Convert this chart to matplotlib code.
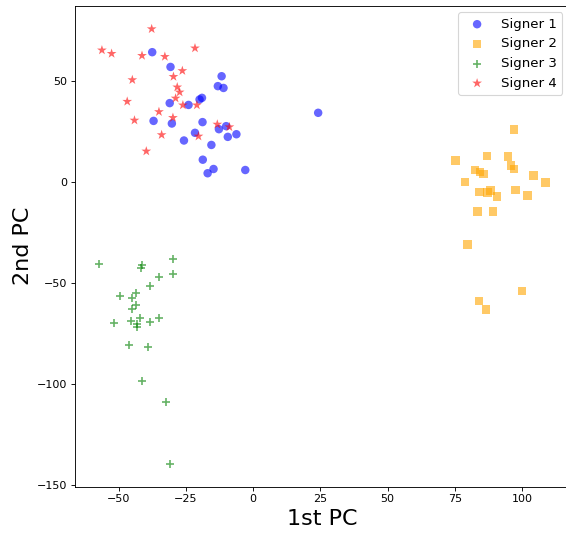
import matplotlib
matplotlib.use("Agg")
import matplotlib.pyplot as plt

s1_x = [-37.5, -30.7, -11.7, -13.1, -11.0, -19.0, -19.9, -31.0, -24.0, -37.0, -30.2, -18.8,
        -12.7, -10.0, -6.2, -9.4, -21.6, -25.7, -15.5, -18.7, -14.7, -16.9, -2.9, 24.2]
s1_y = [64.2, 56.9, 52.3, 47.4, 46.5, 41.6, 40.8, 39.0, 38.1, 30.2, 28.9, 29.6,
        26.1, 27.6, 23.6, 22.3, 24.3, 20.5, 18.3, 11.0, 6.4, 4.3, 5.9, 34.2]

s2_x = [97.1, 75.2, 86.9, 94.8, 95.8, 97.1, 82.6, 84.3, 85.6, 104.3, 108.7, 78.7,
        84.1, 87.2, 88.2, 90.7, 97.5, 102.1, 83.5, 89.2, 79.8, 100.0, 83.9, 86.7]
s2_y = [25.9, 10.5, 12.7, 12.5, 8.1, 6.3, 5.9, 5.0, 3.8, 3.1, -0.3, 0.0,
        -5.1, -5.3, -4.3, -7.1, -4.1, -6.8, -14.7, -14.7, -30.9, -54.0, -58.9, -63.2]

s3_x = [-57.4, -41.2, -41.6, -29.9, -29.8, -34.9, -38.4, -49.6, -43.7, -45.2, -43.4, -45.1,
        -51.7, -45.4, -42.1, -43.3, -43.3, -38.5, -34.8, -46.2, -39.2, -41.2, -32.3, -31.0]
s3_y = [-40.7, -41.3, -42.6, -38.3, -45.4, -47.2, -51.5, -56.3, -54.8, -57.3, -61.1, -63.0,
        -70.0, -68.7, -67.5, -70.1, -71.6, -69.5, -67.2, -80.7, -81.8, -98.7, -108.8, -139.8]

s4_x = [-37.7, -56.2, -52.6, -41.3, -32.8, -21.6, -26.3, -29.6, -44.9, -28.2, -27.3, -28.8,
        -46.8, -26.1, -20.9, -35.0, -29.8, -44.1, -34.0, -39.7, -13.3, -8.8, -20.3]
s4_y = [75.7, 65.2, 63.5, 62.5, 62.0, 66.2, 55.0, 52.1, 50.5, 46.9, 44.4, 41.4,
        39.8, 38.0, 38.0, 34.7, 31.8, 30.5, 23.3, 15.2, 28.5, 27.2, 22.6]

labels = ["Signer 1", "Signer 2", "Signer 3", "Signer 4"]

fig = plt.figure(figsize=(566 / 80, 534 / 80), dpi=80)
ax = fig.add_axes([75.3 / 566, 47.3 / 534, (569.1 - 75.3) / 566, (486.7 - 5.7) / 534])

ax.scatter(s1_x, s1_y, s=58, c="blue", marker="o", alpha=0.6, edgecolors="none", label=labels[0])
ax.scatter(s2_x, s2_y, s=58, c="orange", marker="s", alpha=0.6, edgecolors="none", label=labels[1])
ax.scatter(s3_x, s3_y, s=46, c="green", marker="+", alpha=0.6, linewidths=1.5, label=labels[2])
ax.scatter(s4_x, s4_y, s=85, c="red", marker="*", alpha=0.6, edgecolors="none", label=labels[3])

ax.set_xlim(-66.1, 117.5)
ax.set_ylim(-150.8, 87.2)
ax.set_xlabel("1st PC", fontsize=20)
ax.set_ylabel("2nd PC", fontsize=20)
ax.legend(loc="upper right", fontsize=12)

fig.savefig("out.png", dpi=80)
